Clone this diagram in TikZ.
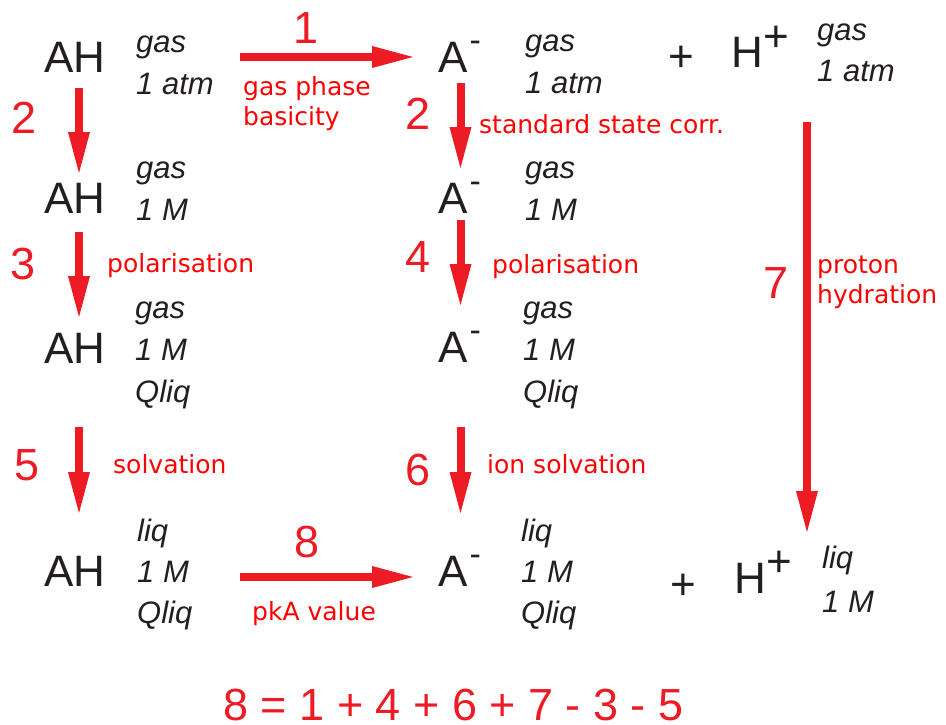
\documentclass[tikz,border=0pt]{standalone}
\usepackage{fontspec}
\setmainfont{Liberation Sans}
\newfontfamily\lblfont{DejaVu Sans}
\usetikzlibrary{arrows.meta}
\definecolor{rxnRed}{RGB}{237,28,36}
\definecolor{lblRed}{RGB}{255,0,0}
\definecolor{inkBlack}{RGB}{35,31,32}
\newcommand{\anion}{A\kern2pt\raisebox{21pt}{\fontsize{34}{34}\selectfont -}}
\newcommand{\hplus}{H\raisebox{17pt}{+}}
\tikzset{
  pk/spec/.style={font=\fontsize{44}{48}\selectfont, text=inkBlack,
    inner sep=0pt, anchor=base west},
  pk/state/.style={font=\fontsize{31}{42}\selectfont\itshape, text=inkBlack,
    inner sep=0pt, anchor=base west, align=left},
  pk/num/.style={font=\fontsize{45}{48}\selectfont, text=rxnRed, inner sep=0pt},
  pk/lbl/.style={font=\lblfont\fontsize{25}{30}\selectfont, text=lblRed,
    inner sep=0pt, anchor=base west, align=left},
  pk/arr/.style={-{Triangle[length=41pt,width=22pt,line width=0pt]},
    line width=8pt, draw=rxnRed}
}
\begin{document}
\begin{tikzpicture}[x=1pt, y=1pt]
  \useasboundingbox (0,0) rectangle (946,-725);
  % species
  \node[pk/spec] (ah1) at (44,-72.5) {AH};
  \node[pk/spec] (ah2) at (44,-213) {AH};
  \node[pk/spec] (ah3) at (44,-363) {AH};
  \node[pk/spec] (ah4) at (44,-586.5) {AH};
  \node[pk/spec] (am1) at (438,-72.5) {\anion};
  \node[pk/spec] (am2) at (438,-213) {\anion};
  \node[pk/spec] (am3) at (438,-362) {\anion};
  \node[pk/spec] (am4) at (438,-586.5) {\anion};
  \node[pk/spec] (plus1) at (668,-72) {+};
  \node[pk/spec] (plus4) at (670,-599) {+};
  \node[pk/spec] (hp1) at (731.5,-68) {\hplus};
  \node[pk/spec] (hp4) at (734.5,-593) {\hplus};
  % states (base = last line)
  \node[pk/state] (st1) at (136,-95) {gas\\1 atm};
  \node[pk/state] (st2) at (136,-220) {gas\\1 M};
  \node[pk/state] (st3) at (135,-402) {gas\\1 M\\Qliq};
  \node[pk/state, font=\fontsize{31}{41}\selectfont\itshape] (st4) at (137,-623) {liq\\1 M\\Qliq};
  \node[pk/state] (sa1) at (525,-93) {gas\\1 atm};
  \node[pk/state] (sa2) at (525,-220) {gas\\1 M};
  \node[pk/state] (sa3) at (523,-402) {gas\\1 M\\Qliq};
  \node[pk/state, font=\fontsize{31}{41}\selectfont\itshape] (sa4) at (521,-623) {liq\\1 M\\Qliq};
  \node[pk/state] (sh1) at (817,-82) {gas\\1 atm};
  \node[pk/state, font=\fontsize{31}{44}\selectfont\itshape] (sh4) at (822,-612) {liq\\1 M};

  % steps
  \draw[pk/arr] ([shift={(196,15.5)}]ah1.base west) -- ([shift={(-25,15.5)}]am1.base west);
  \draw[pk/arr] ([shift={(35,-15.5)}]ah1.base west) -- ([shift={(35,40)}]ah2.base west);
  \draw[pk/arr] ([shift={(35,-19)}]ah2.base west) -- ([shift={(35,46)}]ah3.base west);
  \draw[pk/arr] ([shift={(35,-64)}]ah3.base west) -- ([shift={(35,73.5)}]ah4.base west);
  \draw[pk/arr] ([shift={(22.5,-10.5)}]am1.base west) -- ([shift={(22.5,45)}]am2.base west);
  \draw[pk/arr] ([shift={(22.5,-7)}]am2.base west) -- ([shift={(22.5,57)}]am3.base west);
  \draw[pk/arr] ([shift={(22.5,-65)}]am3.base west) -- ([shift={(22.5,73.5)}]am4.base west);
  \draw[pk/arr] ([shift={(75.5,-54)}]hp1.base west) -- ([shift={(72.5,61)}]hp4.base west);
  \draw[pk/arr] ([shift={(196,9.5)}]ah4.base west) -- ([shift={(-25,9.5)}]am4.base west);

  % step numbers
  \node[pk/num] (n1) at (306,-28) {1};
  \node[pk/num] (n2a) at (24,-118) {2};
  \node[pk/num] (n3) at (23,-264) {3};
  \node[pk/num] (n5) at (27,-465) {5};
  \node[pk/num] (n2b) at (418,-114) {2};
  \node[pk/num] (n4) at (418,-257) {4};
  \node[pk/num] (n6) at (418,-470) {6};
  \node[pk/num] (n7) at (776,-283) {7};
  \node[pk/num] (n8) at (307,-542) {8};

  % step names
  \node[pk/lbl] (gpb) at (243,-125) {gas phase\\basicity};
  \node[pk/lbl] (ssc) at (479,-133) {standard state corr.};
  \node[pk/lbl] (polA) at (107,-272) {polarisation};
  \node[pk/lbl] (polB) at (492,-273) {polarisation};
  \node[pk/lbl] (solv) at (113,-473) {solvation};
  \node[pk/lbl] (isolv) at (487,-473) {ion solvation};
  \node[pk/lbl] (phyd) at (817,-303) {proton\\hydration};
  \node[pk/lbl] (pka) at (252,-620) {pkA value};

  \node[pk/num, anchor=base west] (sum) at (223,-720) {8 = 1 + 4 + 6 + 7 - 3 - 5};
\end{tikzpicture}
\end{document}
